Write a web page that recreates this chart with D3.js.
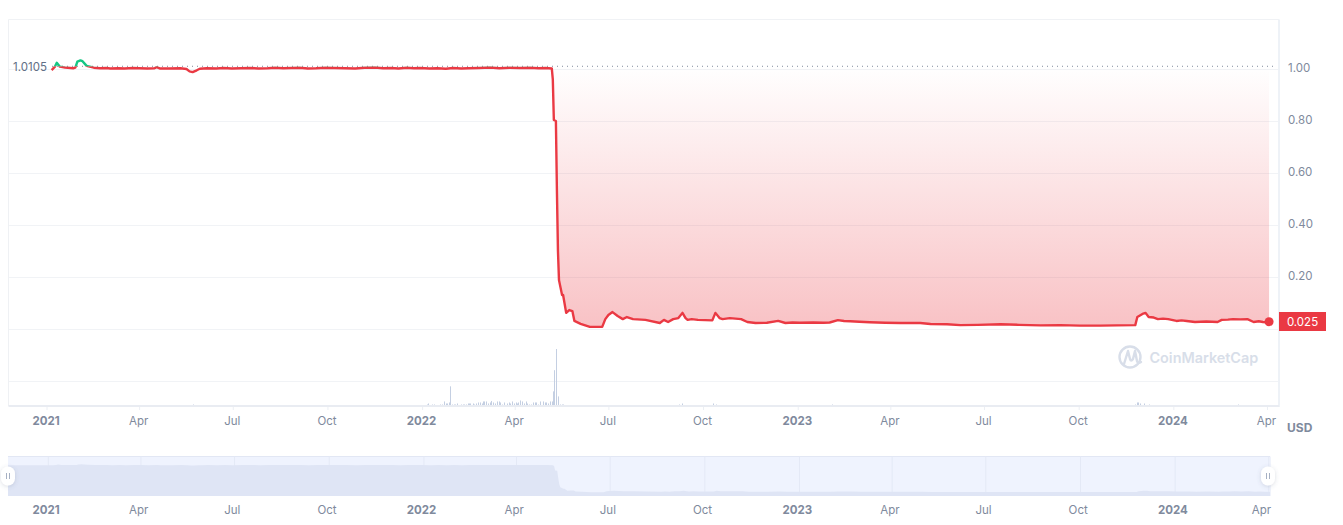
<!DOCTYPE html>
<html>
<head>
<meta charset="utf-8">
<script src="https://cdn.jsdelivr.net/npm/d3@7/dist/d3.min.js"></script>
<style>
html,body{margin:0;padding:0;background:#fff;}
svg{display:block;font-family:Inter,"Noto Sans",sans-serif;}
</style>
</head>
<body>
<svg id="chart" width="1343" height="525"></svg>
<script>
// ---- data (days counted from 1 Jan 2021) ----
const priceDays = [5,8,10,13,18,26,28,30,33,35,39,46,52,58,62,70,76,84,90,98,105,107,110,120,130,136,139,142,146,149,156,165,172,180,189,198,206,215,222,230,238,246,254,262,271,280,290,300,309,319,327,335,342,350,357,363,372,380,388,395,403,410,420,431,440,450,460,470,478,485,491,
  492,493,495,496,497,498,501,502,505,508,511,513,519,528,540,543,546,550,555,560,564,570,582,596,600,604,609,614,618,621,623,627,633,647,650,654,657,664,675,681,689,
  700,711,718,725,732,745,755,761,769,775,781,790,800,815,830,849,859,875,888,905,927,945,966,985,1004,1024,1040,1058,1060,1065,1068,1071,1076,1080,1085,1090,1098,1103,1108,1116,1127,1138,1142,1148,1153,1160,1167,1173,1178,1182,1188];
const priceValues = [0.996,1.008,1.024,1.009,1.006,1.003,1.005,1.028,1.033,1.030,1.012,1.005,1.003,1.004,1.002,1.003,1.002,1.004,1.003,1.002,1.003,1.007,1.002,1.002,1.003,1.000,0.991,0.988,0.995,1.001,1.003,1.002,1.004,1.002,1.003,1.004,1.002,1.003,1.005,1.003,1.004,1.005,1.002,1.003,1.005,1.004,1.003,1.002,1.005,1.006,1.003,1.004,1.002,1.005,1.003,1.004,1.002,1.003,1.001,1.004,1.002,1.003,1.004,1.006,1.003,1.005,1.004,1.005,1.003,1.004,1.002,
  0.960,0.804,0.800,0.530,0.300,0.188,0.131,0.131,0.062,0.073,0.069,0.031,0.020,0.008,0.008,0.038,0.054,0.065,0.050,0.038,0.046,0.038,0.035,0.023,0.035,0.027,0.038,0.042,0.062,0.042,0.035,0.038,0.035,0.033,0.062,0.042,0.038,0.042,0.038,0.027,0.023,
  0.024,0.031,0.023,0.025,0.024,0.025,0.024,0.025,0.034,0.031,0.030,0.028,0.026,0.024,0.023,0.023,0.019,0.018,0.015,0.016,0.018,0.016,0.014,0.015,0.013,0.013,0.014,0.015,0.046,0.058,0.062,0.046,0.044,0.038,0.040,0.038,0.031,0.033,0.031,0.027,0.029,0.027,0.035,0.036,0.038,0.037,0.038,0.027,0.030,0.027,0.025];
const volumeDays = [142,370,371,375,377,382,384,386,388,389,391,392,394,396,397,399,403,405,406,408,410,411,412,414,415,417,419,421,423,424,425,427,429,431,432,434,436,438,440,441,443,445,447,449,450,452,454,456,457,458,460,462,464,466,467,469,471,473,475,476,478,480,482,484,485,487,489,491,492,493,495,497,499,501,502,615,618,648,651,763,1058,1060,1061,1063,1066,1071,1158];
const volumeValues = [1,1,2,1,1,1,1,4,2,2,3,19,1,1,1,2,1,1,1,1,2,2,2,2,1,2,3,3,2,4,4,4,2,3,4.5,3,2,4,4,3,1,3,2,3,2,4,2,3,2,3,5,4,2,4,2,1,1,3,3,3,1,4,4,3,3,2,4,4,14,35,56,9,1,1,1,1,2,2,1,1,1,3,3,2,2,1,1];
const priceTicks = [0.2,0.4,0.6,0.8,1.0];
const gridValues = [-0.2,0,0.2,0.4,0.6,0.8,1.0];
const timeTickDates = ["2021-01-01","2021-04-01","2021-07-01","2021-10-01","2022-01-01","2022-04-01","2022-07-01","2022-10-01","2023-01-01","2023-04-01","2023-07-01","2023-10-01","2024-01-01","2024-04-01"];
const timeTickLabels = ["2021","Apr","Jul","Oct","2022","Apr","Jul","Oct","2023","Apr","Jul","Oct","2024","Apr"];
const basePrice = 1.0105, lastPrice = 0.025;

// ---- scales ----
const parseDay = d3.utcParse("%Y-%m-%d");
const day0 = parseDay("2021-01-01");
const toDate = d => d3.utcDay.offset(day0, d);
const tickDates = timeTickDates.map(parseDay);
const x = d3.scaleUtc().domain([day0, parseDay("2024-04-01")]).range([46.5, 1267]);
const xMini = d3.scaleUtc().domain([day0, parseDay("2024-04-01")]).range([47.8, 1268.3]);
const y = d3.scaleLinear().domain([0, 1]).range([329, 69]);
const yVol = d3.scaleLinear().domain([0, 56]).range([405.5, 349]);
const yMini = d3.scaleLinear().domain([0, 1]).range([492.4, 465.2]);
const price = priceDays.map((d, i) => ({date: toDate(d), v: priceValues[i]}));
const volume = volumeDays.map((d, i) => ({date: toDate(d), v: volumeValues[i]}));
const last = price[price.length - 1];

const red = "#ea3943", green = "#16c784", axisText = "#808a9d", gridCol = "#f1f3f6";
const svg = d3.select("#chart");
const defs = svg.append("defs");
const grad = defs.append("linearGradient").attr("id", "areaGrad")
  .attr("gradientUnits", "userSpaceOnUse").attr("x1", 0).attr("x2", 0).attr("y1", y(basePrice)).attr("y2", y(0));
grad.append("stop").attr("offset", 0).attr("stop-color", red).attr("stop-opacity", 0);
grad.append("stop").attr("offset", 1).attr("stop-color", red).attr("stop-opacity", 0.31);
defs.append("clipPath").attr("id", "below").append("rect").attr("x", 0).attr("width", 1343).attr("y", y(basePrice)).attr("height", 400);
defs.append("clipPath").attr("id", "above").append("rect").attr("x", 0).attr("width", 1343).attr("y", 0).attr("height", y(basePrice));
const shadow = defs.append("filter").attr("id", "hs").attr("x", "-60%").attr("y", "-60%").attr("width", "220%").attr("height", "220%");
shadow.append("feDropShadow").attr("dx", 0).attr("dy", 1).attr("stdDeviation", 2).attr("flood-color", "#58667e").attr("flood-opacity", 0.22);

// ---- frame and grid ----
const plotL = 8.5, plotR = 1279, plotT = 19.5, plotB = 406;
svg.append("g").selectAll("line").data(gridValues).join("line")
  .attr("x1", plotL).attr("x2", plotR).attr("y1", d => y(d) + 0.5).attr("y2", d => y(d) + 0.5)
  .attr("stroke", gridCol).attr("stroke-width", 1);
svg.append("line").attr("x1", plotL).attr("x2", plotR).attr("y1", plotT).attr("y2", plotT).attr("stroke", "#f0f2f5");
svg.append("line").attr("x1", plotL).attr("x2", plotL).attr("y1", plotT).attr("y2", plotB).attr("stroke", "#eff1f4");
svg.append("line").attr("x1", plotR).attr("x2", plotR).attr("y1", plotT).attr("y2", plotB + 1).attr("stroke", "#eef2f7").attr("stroke-width", 2);

// ---- watermark ----
const wm = svg.append("g");
wm.append("circle").attr("cx", 1130).attr("cy", 357).attr("r", 10.5).attr("fill", "none").attr("stroke", "#d8dee9").attr("stroke-width", 2.4);
wm.append("path").attr("d", "M1124 364 L1128 351 L1130 359 Q1131 362 1133 359 L1135 351 L1137 361 Q1138 364 1141 362")
  .attr("fill", "none").attr("stroke", "#d8dee9").attr("stroke-width", 2.4).attr("stroke-linejoin", "round").attr("stroke-linecap", "round");
wm.append("text").attr("x", 1149.5).attr("y", 363).attr("font-size", 14.4).attr("font-weight", 600).attr("fill", "#d8dee9").text("CoinMarketCap");

// ---- volume ----
svg.append("g").selectAll("rect").data(volume).join("rect")
  .attr("x", d => Math.round(x(d.date))).attr("width", 1)
  .attr("y", d => yVol(d.v)).attr("height", d => yVol(0) - yVol(d.v))
  .attr("fill", "#c4cfe2");

// ---- price ----
const area = d3.area().x(d => x(d.date)).y0(y(basePrice)).y1(d => y(d.v));
svg.append("path").datum(price).attr("d", area).attr("fill", "url(#areaGrad)").attr("clip-path", "url(#below)");
svg.append("line").attr("x1", 52).attr("x2", 1276).attr("y1", y(basePrice)).attr("y2", y(basePrice))
  .attr("stroke", "#808a9d").attr("stroke-width", 1).attr("stroke-dasharray", "1 4");
const line = d3.line().x(d => x(d.date)).y(d => y(d.v));
svg.append("path").datum(price).attr("d", line).attr("fill", "none").attr("stroke", red).attr("stroke-width", 2.4).attr("stroke-linejoin", "round").attr("clip-path", "url(#below)");
svg.append("path").datum(price).attr("d", line).attr("fill", "none").attr("stroke", green).attr("stroke-width", 2.4).attr("stroke-linejoin", "round").attr("clip-path", "url(#above)");
svg.append("circle").attr("cx", x(last.date)).attr("cy", y(last.v) - 0.8).attr("r", 4.5).attr("fill", red);

// ---- base label ----
svg.append("text").attr("x", 13).attr("y", y(basePrice) + 4.5).attr("font-size", 11.5).attr("fill", "#616e85").text(basePrice.toFixed(4));

// ---- axes ----
const yAxis = d3.axisRight(y).tickValues(priceTicks).tickSize(0).tickPadding(0).tickFormat(d => d.toFixed(2));
const gy = svg.append("g").attr("transform", "translate(1288,-1.5)").call(yAxis);
gy.select(".domain").remove();
gy.selectAll("text").attr("font-size", 11.5).attr("font-family", "Inter").attr("fill", axisText);

function styleTime(g, labelY) {
  g.select(".domain").remove();
  g.selectAll("text").attr("font-family", "Inter").attr("fill", axisText)
    .attr("font-size", 11.5)
    .attr("font-weight", (d, i) => /^\d/.test(timeTickLabels[i]) ? 700 : 400)
    .attr("y", labelY).attr("dy", 0).attr("dx", -1);
}
const xAxis = d3.axisBottom(x).tickValues(tickDates).tickSize(4).tickPadding(0).tickFormat((d, i) => timeTickLabels[i]);
const gx = svg.append("g").attr("transform", `translate(0,${plotB})`).call(xAxis);
styleTime(gx, 18.5);
gx.selectAll("line").attr("stroke", "#eceff4");
svg.append("line").attr("x1", plotL).attr("x2", plotR).attr("y1", plotB).attr("y2", plotB).attr("stroke", "#e9ecf2").attr("stroke-width", 2);
svg.append("text").attr("x", 1287).attr("y", 432).attr("font-size", 12).attr("font-weight", 700).attr("fill", "#808a9d").text("USD");

// ---- overview strip ----
const miniL = 8, miniR = 1270, miniT = 456.5, miniB = 496;
const mini = svg.append("g");
mini.append("rect").attr("x", miniL).attr("y", miniT).attr("width", miniR - miniL).attr("height", miniB - miniT).attr("fill", "#eff3fe");
mini.append("line").attr("x1", miniL).attr("x2", miniR).attr("y1", miniT).attr("y2", miniT).attr("stroke", "#e2e7f4");
const miniSeries = [{date: xMini.invert(miniL), v: priceValues[0]}, ...price, {date: xMini.invert(miniR), v: lastPrice}];
const xAxisMiniGrid = d3.axisBottom(xMini).tickValues(tickDates).tickSize(miniB - miniT).tickFormat("");
const gridMini = mini.append("g").attr("transform", `translate(0,${miniT})`).call(xAxisMiniGrid);
gridMini.select(".domain").remove();
gridMini.selectAll("line").attr("stroke", "#e4e9f6");
mini.append("path").datum(miniSeries)
  .attr("d", d3.area().x(d => xMini(d.date)).y0(miniB).y1(d => yMini(d.v)))
  .attr("fill", "#dfe5f5");
mini.append("line").attr("x1", miniR + 0.5).attr("x2", miniR + 0.5).attr("y1", miniT).attr("y2", miniB).attr("stroke", "#f0f3fb");
const xAxisMini = d3.axisBottom(x).tickValues(tickDates).tickSize(0).tickPadding(0).tickFormat((d, i) => timeTickLabels[i]);
const gxm = svg.append("g").attr("transform", `translate(0,${miniB})`).call(xAxisMini);
styleTime(gxm, 18);
gxm.selectAll("text").filter((d, i) => i === timeTickLabels.length - 1).attr("dx", -6);

// ---- handles ----
[miniL, 1268].forEach(cx => {
  const h = svg.append("g").attr("transform", `translate(${cx},476)`);
  h.append("rect").attr("x", -7).attr("y", -9.5).attr("width", 14).attr("height", 19).attr("rx", 7).attr("fill", "#fff").attr("filter", "url(#hs)");
  [-1.5, 1.5].forEach(dx => h.append("line").attr("x1", dx).attr("x2", dx).attr("y1", -3).attr("y2", 3).attr("stroke", "#a6b0c3").attr("stroke-width", 1));
});

// ---- current price tag ----
const tagH = 19, tagY = y(lastPrice) - 10.5;
svg.append("rect").attr("x", 1279).attr("y", tagY).attr("width", 47).attr("height", tagH).attr("fill", red);
svg.append("text").attr("x", 1302.5).attr("y", tagY + 13.5).attr("text-anchor", "middle").attr("font-size", 11.5).attr("fill", "#fff").text(lastPrice.toFixed(3));
</script>
</body>
</html>
